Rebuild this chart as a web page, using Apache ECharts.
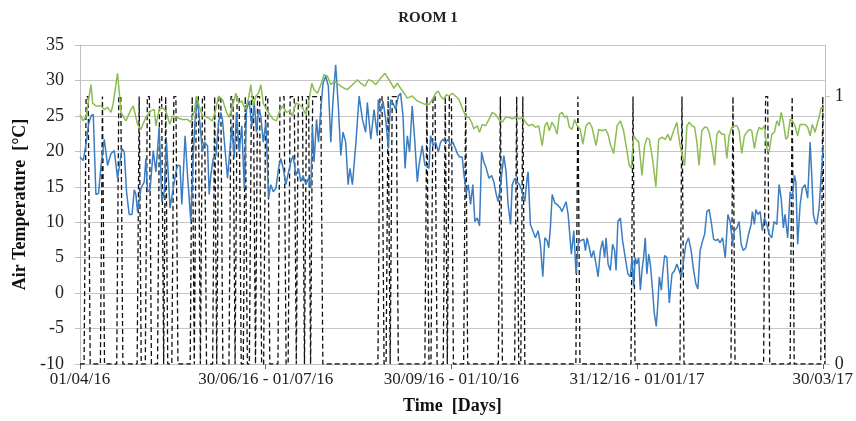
<!DOCTYPE html>
<html>
<head>
<meta charset="utf-8">
<script src="https://cdn.jsdelivr.net/npm/echarts@6/dist/echarts.min.js"></script>
<style>
html,body{margin:0;padding:0;background:#fff;}
#chart{width:856px;height:421px;}
</style>
</head>
<body>
<div id="chart"></div>
<script>
// X axis: day index from 01/04/16 (day 0)
const tickDays = [0, 91, 182, 273, 364];
const tickLabels = ['01/04/16', '30/06/16 - 01/07/16', '30/09/16 - 01/10/16', '31/12/16 - 01/01/17', '30/03/17'];

// Green series: [day, air temperature °C]
const greenTemps = [
[0,25.2],[1.6,24.3],[3,25.0],[5.4,29.4],[6.2,26.8],[7.8,26.4],[10.3,26.4],[11.9,25.9],[13.5,26.2],[15.2,25.5],[16.3,26.8],[18.4,31.0],[20.1,25.5],[22.5,24.3],[25,25.9],[26.1,26.4],[28.2,23.8],[29.8,23.1],[32.3,24.8],[34.7,25.7],[36.4,25.9],[37.2,23.6],[38.8,25.9],[40.1,26.2],[42.1,25.7],[44,23.8],[45.3,25.0],[47,24.8],[50.2,24.5],[52.7,24.5],[54.3,24.1],[55.9,25.5],[57.1,27.8],[58.4,26.4],[60,25.0],[62.5,24.8],[64.9,24.3],[66.2,25.5],[67.9,27.8],[69.8,27.3],[71.8,25.5],
[73.1,24.8],[74.8,26.4],[76.4,28.2],[77.7,26.8],[79.3,27.1],[81,25.9],[82.6,27.5],[83.7,29.4],[84.9,26.4],[86.2,27.8],[87.5,28.2],[88.6,29.4],[89.8,26.8],[91.4,25.9],[93,25.2],[94.7,24.5],[96.3,24.3],[97.6,25.5],[99.2,26.4],[101.2,25.5],[102.8,25.7],[104.1,25.0],[105.8,26.8],[107.4,26.6],[109,26.2],[110.7,25.2],[112,26.8],[113.6,29.6],[114.7,28.7],[116.4,28.2],[118,29.4],[119.6,30.8],[121.3,30.6],[122.9,29.4],[124.5,29.9],[126.1,29.6],[127.8,29.2],[129.4,28.9],[131,28.7],[133.5,29.4],[135.9,30.1],[137.6,29.6],[139.7,29.2],[141.3,30.1],[143.3,29.9],[144.9,29.4],
[147.3,30.3],[149.5,31.0],[151.4,30.1],[153.9,28.9],[155.5,29.6],[157.1,28.9],[158.8,28.2],[160.4,27.5],[162.8,27.8],[165.3,27.1],[167.7,26.8],[169.4,26.6],[171,26.6],[172.6,27.3],[174.3,28.2],[175.6,28.5],[176.7,27.8],[178.3,27.3],[179.5,28.0],[180.8,27.8],[182.4,28.2],[184,27.8],[185.7,27.3],[187.6,25.9],[189.3,24.8],[190.6,24.8],[191.9,24.1],[193,23.2],[194.7,23.6],[195.8,22.7],[197.1,23.8],[198.7,23.6],[200.4,24.5],[202,25.5],[203.6,25.2],[205.3,24.5],[206.9,24.1],[208.5,24.8],[210.2,24.8],[211.8,24.6],[213.4,24.8],[215.4,24.6],[217,24.8],[218.3,24.1],
[219.9,23.6],[221.6,23.8],[223.2,23.4],[224.8,23.6],[226.5,20.8],[227.8,23.6],[228.9,24.1],[230,22.9],[231.3,24.1],[232.7,23.4],[233.8,22.4],[234.9,25.2],[236.2,25.5],[237.5,24.8],[238.7,25.0],[239.8,23.4],[241.1,23.1],[242.4,24.5],[243.6,23.6],[245.2,23.1],[246.4,21.0],[248,23.6],[249.6,24.1],[250.9,23.4],[252.9,20.8],[254.2,23.1],[255.8,22.9],[257.5,23.1],[258.8,22.4],[259.9,21.0],[261.5,19.7],[263.2,23.6],[264.8,24.3],[266.4,22.9],[267.6,20.8],[269.2,18.0],[270.2,17.6],[271.3,22.2],[272.5,21.7],[273.8,21.3],[275.4,16.6],[276.7,20.8],[277.8,21.9],[279,21.7],[280.6,18.9],[282.2,15.0],[283.6,21.7],[285.2,22.0],[286.8,21.7],[288.1,22.4],[289.3,21.5],[290.9,22.9],[292.5,24.1],
[293,22.9],[294.1,20.8],[296.3,18.0],[297.4,23.6],[298.6,24.1],[299.9,23.6],[301.2,23.4],[302.3,21.3],[303.4,18.0],[304.7,22.9],[306.1,23.4],[307.2,23.4],[308.3,22.7],[309.6,20.8],[311,18.0],[312.1,22.4],[313.2,22.9],[314.5,22.4],[315.8,22.4],[317,19.0],[318.1,22.2],[319.4,23.4],[320.7,23.6],[321.9,23.6],[323,22.9],[324.3,19.7],[325.6,22.2],[326.8,22.7],[327.9,23.1],[329.2,22.9],[330.5,20.4],[331.7,22.4],[332.8,23.4],[334.1,23.1],[335.4,23.6],[336.6,20.4],[337.7,19.9],[339,22.4],[340.3,22.7],[341.5,24.3],[342.6,23.6],[343.6,25.5],[344.7,24.1],[345.9,21.7],[346.8,22.0],[348,24.5],[349.1,24.3],[350.4,23.6],[351.7,22.2],[352.9,23.8],[354,23.8],[355.3,23.8],[356.6,23.4],[357.8,22.2],[358.9,23.8],[360.2,22.7],[361,23.6],[362.2,24.8],[363.2,26.2],[364.3,26.0]
];

// Blue series: [day, air temperature °C]
const blueTemps = [
[0,19.2],[1.6,18.7],[3.3,21.7],[4.2,23.8],[5.4,25.0],[6.5,25.2],[7.8,13.9],[9.1,14.1],[10.3,18.0],[11.9,21.7],[13.5,18.0],[15.2,19.7],[16.8,20.1],[18.4,16.2],[20.6,20.4],[21.7,19.9],[22.8,14.3],[24.1,11.1],[25.5,11.1],[26.6,14.6],[27.4,13.9],[28.2,11.5],[29.9,14.8],[31.5,15.7],[32.3,19.0],[33.1,14.3],[34.3,14.6],[35.9,20.1],[37.2,17.1],[38.8,23.4],[40.1,12.9],[41.3,14.3],[42.4,21.3],[44.1,12.0],[45.4,14.3],[47,17.1],[47.8,18.0],[49,18.0],[49.9,12.5],[51.5,22.2],[52.7,16.6],[54.3,10.1],[55.5,19.4],[56.4,24.5],[57.6,27.3],[58.7,24.1],[60,19.9],[60.9,21.3],[62.5,20.8],[63.3,13.9],[64.1,16.6],[65.3,19.0],[66.6,19.4],[67.9,24.1],[69,25.5],[69.8,24.5],[72.3,16.2],
[73.1,19.0],[74.4,23.6],[75.6,19.0],[76.7,25.5],[78,19.9],[79.3,23.6],[80.5,14.8],[81.6,25.9],[82.9,27.1],[84.2,23.6],[85.4,26.8],[86.5,22.7],[87.5,25.9],[88.6,25.0],[89.8,21.3],[91.1,24.1],[92.4,13.4],[93.5,15.3],[94.7,14.3],[96,14.8],[97.3,17.6],[98.4,19.0],[99.6,17.6],[100.9,15.3],[102.2,17.1],[103.3,18.5],[104.5,19.4],[105.8,16.6],[107.1,17.6],[108.2,15.7],[109.3,16.6],[110.7,15.3],[112,16.2],[113.1,14.8],[113.9,23.6],[114.7,18.5],[115.9,24.5],[116.9,21.3],[118,25.9],[119.1,29.6],[120.4,30.6],[121.7,29.2],[122.9,21.3],[124,27.3],[125.3,32.2],[126.6,26.4],[127.8,19.4],[128.9,22.7],[130.2,21.3],[131.4,15.3],[132.3,17.6],[133.5,15.3],[135.1,20.8],[136.8,27.8],[138.4,24.5],[140,22.7],[140.8,26.9],[142.5,21.7],[144.1,25.9],[145.7,22.2],
[146.2,27.3],[147.3,25.5],[148.5,27.1],[149.8,24.5],[151.1,20.4],[152.2,27.3],[153.4,26.8],[154.7,25.9],[156,27.8],[157.1,28.2],[158.3,25.0],[159.3,17.6],[160.4,22.2],[161.5,19.9],[162.8,26.4],[164.1,21.3],[165.3,15.7],[166.1,18.0],[167.7,20.8],[169,18.0],[170.2,18.0],[171,17.6],[171.8,22.2],[173,20.8],[174.3,21.3],[175.6,19.9],[176.7,21.3],[177.9,21.7],[179.2,21.3],[180.5,21.7],[181.6,20.8],[182.7,21.3],[184,20.4],[184.9,19.7],[186,19.2],[187.3,19.2],[188.1,16.9],[189.3,14.1],[190.3,15.3],[191.4,12.5],[192.5,15.3],[193.5,10.1],[194.7,10.6],[195.8,9.5],[196.8,19.9],[197.9,18.5],[199.1,17.6],[200.4,16.2],[201.7,16.6],[202.8,15.7],[204,13.9],[204.9,12.9],[206.1,15.3],[207.7,19.4],[208.8,17.1],[209.8,12.5],[211,9.7],[211.8,15.3],[213.1,16.2],[214.2,15.7],[215.4,15.3],[216.7,14.3],[218,12.9],[219.1,16.2],
[219.6,17.1],[220.7,9.7],[221.9,8.8],[223.2,7.8],[224.5,8.8],[225.6,6.9],[226.8,2.3],[227.8,7.8],[228.9,7.4],[229.7,6.4],[230.5,9.2],[231.4,13.9],[232.7,12.7],[233.8,12.5],[235.4,12.0],[236.2,11.5],[238.2,12.9],[239.2,11.1],[240.8,5.5],[242,8.8],[243.1,2.7],[244.1,6.9],[245.2,7.4],[246.9,7.6],[247.7,6.0],[248.5,7.8],[249.6,6.4],[250.6,5.0],[251.7,6.0],[252.9,4.1],[253.9,2.3],[255,6.0],[256.1,7.4],[257.1,5.0],[257.8,7.8],[258.8,4.1],[259.9,3.2],[261,6.9],[262,6.0],[262.7,3.2],[263.6,10.1],[264.8,10.6],[265.9,7.4],[267.2,5.0],[268.5,2.7],[269.7,2.3],[270.5,5.0],[271.3,0.9],[272.1,5.0],[272.9,4.1],[273.8,5.0],[274.6,0.4],[275.4,3.2],[276.2,5.0],[277,7.8],[277.8,2.7],[278.7,5.5],[279.5,4.1],[280.6,0.4],[281.4,-2.8],[282.4,-4.7],[283.2,-1.4],[283.9,2.3],[284.9,0.4],[285.5,2.7],[286.5,5.3],[287.6,5.0],[288.8,-1.4],[290.1,2.7],[291.4,3.2],[292.5,4.1],
[293.3,4.1],[294.6,2.3],[295.8,4.6],[296.9,6.9],[298.2,7.8],[299.5,6.0],[300.7,3.2],[301.8,1.3],[302.8,0.6],[303.9,6.0],[305.1,7.4],[306.1,8.3],[307.2,11.5],[308.3,11.8],[309.3,10.1],[310.5,7.6],[311.6,7.4],[312.6,7.6],[313.7,7.1],[314.9,7.8],[316.2,5.0],[317.5,11.1],[318.6,10.1],[319.8,6.9],[320.7,8.8],[321.9,9.2],[323,10.1],[324,6.9],[325.1,6.0],[326.3,6.4],[327.6,8.3],[328.9,9.7],[329.5,11.5],[330.5,9.7],[331.2,11.8],[332.2,11.1],[333.3,11.5],[334.4,8.8],[335.4,10.6],[336.6,9.7],[337.7,8.3],[339,7.8],[340.1,10.1],[341.5,9.7],[342.6,15.3],[343.6,13.4],[344.7,9.2],[345.5,11.1],[346.8,7.8],[348,14.3],[349.1,13.4],[350.1,16.6],[350.8,15.7],[351.7,6.9],[352.9,12.5],[354,14.8],[355.3,15.3],[356.6,13.4],[357.8,21.3],[358.6,16.6],[359.4,11.1],[360.2,10.1],[361,9.7],[362.2,12.0],[363.2,16.6],[364.3,20.8]
];

// Occupancy (right axis, 0/1): periods of days with value 1 [firstDay, lastDay]
const occupiedPeriods = [
[3,4],[11,11],[19,20],[29,29],[33,34],[39,40],[42,42],[46,47],[55,55],[57,58],[60,61],[66,66],[68,69],
[74,75],[77,78],[81,81],[84,85],[87,88],[91,92],[98,100],[103,105],[107,109],[111,112],[114,118],
[147,148],[151,151],[153,155],[170,170],[173,174],[179,179],[181,182],[189,189],[206,206],[214,214],[217,217],
[244,244],[271,271],[295,295],[320,320],[336,337],[349,349],[364,364]
];
const rightTicks = [0, 1];

const occupancy = [[0, 0]];
occupiedPeriods.forEach(([s, e]) => {
  occupancy.push([s - 1, 0], [s, 1], [e, 1], [e + 1, 0]);
});
occupancy.push([365, 0]);

const serif = 'Liberation Serif, Times New Roman, serif';
const chart = echarts.init(document.getElementById('chart'), null, {renderer: 'canvas'});
chart.setOption({
  animation: false,
  backgroundColor: '#ffffff',
  title: {
    text: 'ROOM 1', left: 'center', top: 6,
    textStyle: {fontFamily: serif, fontWeight: 'bold', fontSize: 15, color: '#222'}
  },
  grid: {left: 80, right: 30, top: 45, bottom: 57},
  xAxis: {
    type: 'value', min: 0, max: 365,
    axisLine: {show: true, onZero: false, lineStyle: {color: '#bfbfbf', width: 1}},
    axisTick: {show: true, customValues: tickDays, length: 5, lineStyle: {color: '#666'}},
    axisLabel: {
      customValues: tickDays,
      formatter: v => { const i = tickDays.indexOf(v); return i >= 0 ? tickLabels[i] : ''; },
      fontFamily: serif, fontSize: 17, color: '#222', margin: 7
    },
    splitLine: {show: false},
    name: 'Time  [Days]', nameLocation: 'middle', nameGap: 33,
    nameTextStyle: {fontFamily: serif, fontWeight: 'bold', fontSize: 18, color: '#111'}
  },
  yAxis: [{
    type: 'value', min: -10, max: 35, interval: 5,
    axisLine: {show: true, onZero: false, lineStyle: {color: '#bfbfbf'}},
    axisTick: {show: true, length: 5, lineStyle: {color: '#bfbfbf'}},
    axisLabel: {fontFamily: serif, fontSize: 18, color: '#222', margin: 16},
    splitLine: {show: true, lineStyle: {color: '#c6c6c6', width: 1}},
    name: 'Air Temperature  [°C]', nameLocation: 'middle', nameGap: 43,
    nameTextStyle: {fontFamily: serif, fontWeight: 'bold', fontSize: 18, color: '#111'}
  }, {
    type: 'value', position: 'right', min: 0, max: 1.193,
    axisLine: {show: true, onZero: false, lineStyle: {color: '#bfbfbf'}},
    axisTick: {show: true, customValues: rightTicks, length: 5, lineStyle: {color: '#bfbfbf'}},
    axisLabel: {customValues: rightTicks, fontFamily: serif, fontSize: 18, color: '#222', margin: 10},
    splitLine: {show: false}
  }],
  series: [{
    name: 'Occupancy', type: 'line', yAxisIndex: 1, data: occupancy,
    showSymbol: false, silent: true,
    lineStyle: {color: '#111', width: 1.3, type: [5, 3]}
  }, {
    name: 'Indoor', type: 'line', data: blueTemps,
    showSymbol: false, silent: true,
    lineStyle: {color: '#3b7dc0', width: 1.5}
  }, {
    name: 'Green', type: 'line', data: greenTemps,
    showSymbol: false, silent: true,
    lineStyle: {color: '#8cbd52', width: 1.5}
  }]
});
</script>
</body>
</html>
